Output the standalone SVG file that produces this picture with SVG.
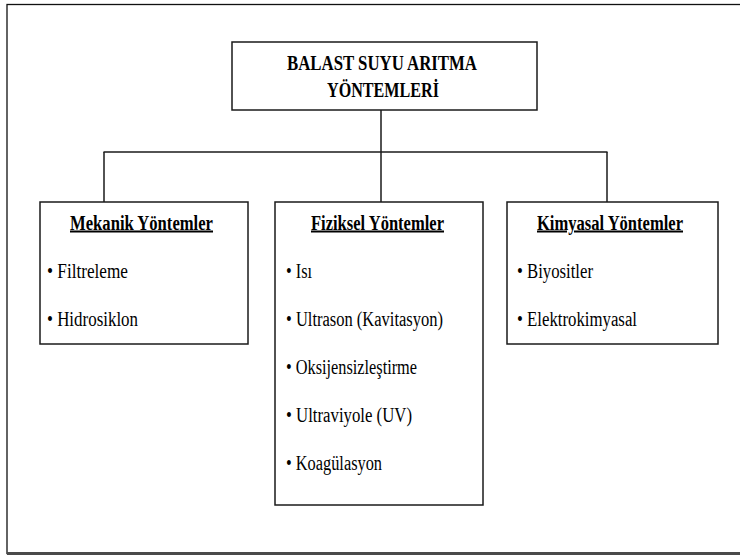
<svg xmlns="http://www.w3.org/2000/svg" width="740" height="556" viewBox="0 0 740 556">
<style>
.box{fill:#fff;stroke:#1a1a1a;stroke-width:1.5}
.conn{fill:none;stroke:#1a1a1a;stroke-width:1.5}
.t{font-family:'Liberation Serif','DejaVu Serif','Times New Roman',serif;fill:#000}
.title{font-size:21px;font-weight:bold;text-anchor:middle}
.head{font-size:20px;font-weight:bold;text-decoration:underline}
.item{font-size:20px}
</style>
<rect x="0" y="0" width="740" height="556" fill="#fff"/>
<g id="frame">
<rect x="7" y="4.5" width="745" height="549" fill="none" stroke="#111" stroke-width="1.3"/>
<line x1="7" y1="553.5" x2="740" y2="553.5" stroke="#4a4a4a" stroke-width="3"/>
</g>
<g id="connectors">
<line class="conn" x1="381" y1="110" x2="381" y2="202"/>
<line class="conn" x1="103.5" y1="152" x2="607.5" y2="152"/>
<line class="conn" x1="104" y1="152" x2="104" y2="202"/>
<line class="conn" x1="607" y1="152" x2="607" y2="202"/>
</g>
<g id="root">
<rect class="box" x="232" y="42" width="305" height="68"/>
<text class="t title" x="382" y="69.5" textLength="190" lengthAdjust="spacingAndGlyphs">BALAST SUYU ARITMA</text>
<text class="t title" x="383" y="97" textLength="112" lengthAdjust="spacingAndGlyphs">YÖNTEMLERİ</text>
</g>
<g id="mekanik">
<rect class="box" x="40" y="202" width="208" height="142"/>
<text class="t head" x="70" y="229.5" textLength="143" lengthAdjust="spacingAndGlyphs">Mekanik Yöntemler</text>
<text class="t item" x="47" y="278" textLength="81" lengthAdjust="spacingAndGlyphs">• Filtreleme</text>
<text class="t item" x="47" y="325.5" textLength="91" lengthAdjust="spacingAndGlyphs">• Hidrosiklon</text>
</g>
<g id="fiziksel">
<rect class="box" x="275" y="202" width="208" height="303"/>
<text class="t head" x="311" y="229.5" textLength="133" lengthAdjust="spacingAndGlyphs">Fiziksel Yöntemler</text>
<text class="t item" x="286" y="278" textLength="26" lengthAdjust="spacingAndGlyphs">• Isı</text>
<text class="t item" x="286" y="326" textLength="157" lengthAdjust="spacingAndGlyphs">• Ultrason (Kavitasyon)</text>
<text class="t item" x="286" y="374" textLength="131" lengthAdjust="spacingAndGlyphs">• Oksijensizleştirme</text>
<text class="t item" x="286" y="422" textLength="126" lengthAdjust="spacingAndGlyphs">• Ultraviyole (UV)</text>
<text class="t item" x="286" y="470" textLength="96" lengthAdjust="spacingAndGlyphs">• Koagülasyon</text>
</g>
<g id="kimyasal">
<rect class="box" x="507" y="202" width="211" height="142"/>
<text class="t head" x="537" y="229.5" textLength="146" lengthAdjust="spacingAndGlyphs">Kimyasal Yöntemler</text>
<text class="t item" x="517" y="278" textLength="76" lengthAdjust="spacingAndGlyphs">• Biyositler</text>
<text class="t item" x="517" y="325.5" textLength="120" lengthAdjust="spacingAndGlyphs">• Elektrokimyasal</text>
</g>
</svg>
